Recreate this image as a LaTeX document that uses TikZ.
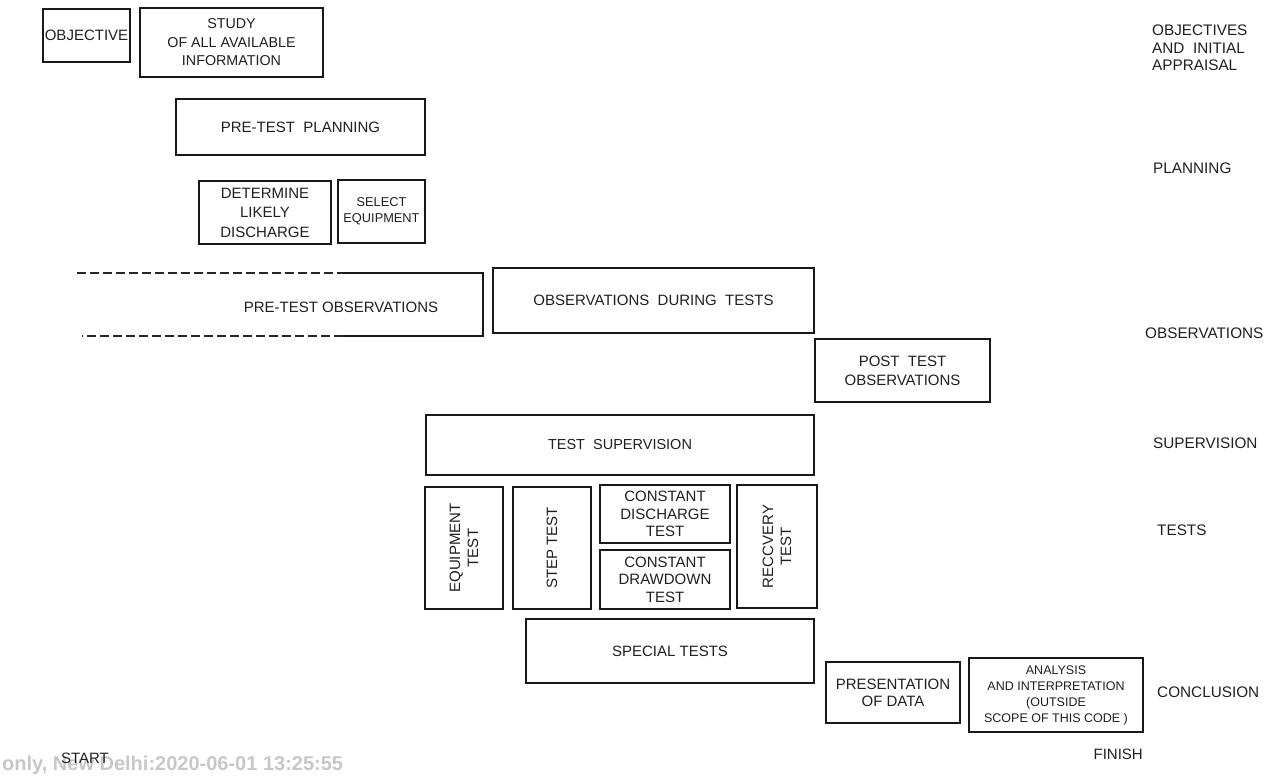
\documentclass[tikz,border=0pt]{standalone}
\usepackage{fontspec}
\setmainfont{Liberation Sans}
\newcommand{\myfs}[2]{\fontsize{#1}{#2}\selectfont}
\begin{document}
\begin{tikzpicture}[x=1pt,y=-1pt,
  box/.style={draw=black!90, line width=1.3pt, inner sep=0pt, align=center, text=black!88, font=\myfs{15}{18}},
  txt/.style={inner sep=0pt, align=center, text=black!88, font=\myfs{15}{18}},
  lab/.style={anchor=west, inner sep=0pt, align=left, text=black!88, font=\myfs{15.3}{17.5}},
  dashline/.style={draw=black!85, line width=1.3pt, dash pattern=on 9pt off 4pt},
  solidline/.style={draw=black!90, line width=1.3pt}]
\useasboundingbox (0,0) rectangle (1274,778);

% watermark
\node[anchor=base west, inner sep=0pt, font=\bfseries\myfs{20}{20}, text=black!22] (wm) at (2,770) {only, New Delhi:2020-06-01 13:25:55};

% objectives
\node[box, minimum width=87pt, minimum height=53pt] (obj) at (86.5,35.5) {OBJECTIVE};
\node[box, minimum width=183pt, minimum height=69pt, font=\myfs{14.3}{18.5}] (study) at (231.5,42.5) {STUDY\\OF ALL AVAILABLE\\INFORMATION};

% planning
\node[box, minimum width=249pt, minimum height=56pt] (ptp) at (300.5,127) {PRE-TEST\ \ PLANNING};
\node[box, minimum width=132pt, minimum height=63pt, font=\myfs{15}{19.5}] (det) at (265,212.5) {DETERMINE\\LIKELY\\DISCHARGE};
\node[box, minimum width=87pt, minimum height=63pt, font=\myfs{12.8}{16}] (sel) at (381.5,211.5) {SELECT\\EQUIPMENT};

% observations
\node[txt] (pto) at (341,307) {PRE-TEST OBSERVATIONS};
\coordinate (ptoTL) at (77,273);
\coordinate (ptoTM) at (343,273);
\coordinate (ptoTR) at (483,273);
\coordinate (ptoBR) at (483,336);
\coordinate (ptoBM) at (343,336);
\coordinate (ptoBL) at (82,336);
\draw[dashline] (ptoTL) -- (ptoTM);
\draw[solidline] (ptoTM) -- (ptoTR) -- (ptoBR) -- (ptoBM);
\draw[dashline] (ptoBM) -- (ptoBL);

\node[box, minimum width=321pt, minimum height=65pt] (odt) at (653.5,300.5) {OBSERVATIONS\ \ DURING\ \ TESTS};
\node[box, minimum width=175pt, minimum height=63pt, font=\myfs{15}{19}] (post) at (902.5,370.5) {POST\ \ TEST\\OBSERVATIONS};

% supervision
\node[box, minimum width=388pt, minimum height=60pt, font=\myfs{14.5}{18}] (sup) at (620,445) {TEST\ \ SUPERVISION};

% tests
\node[box, rotate=90, minimum width=122pt, minimum height=78pt] (eqt) at (464,548) {EQUIPMENT\\TEST};
\node[box, rotate=90, minimum width=122pt, minimum height=78pt] (stp) at (552,548) {STEP TEST};
\node[box, minimum width=130pt, minimum height=58pt, font=\myfs{15}{17.5}] (cdt) at (665,514) {CONSTANT\\DISCHARGE\\TEST};
\node[box, minimum width=130pt, minimum height=59pt, font=\myfs{15}{17.5}] (cdd) at (665,579.5) {CONSTANT\\DRAWDOWN\\TEST};
\node[box, rotate=90, minimum width=123pt, minimum height=80pt] (rec) at (777,546.5) {RECCVERY\\TEST};
\node[box, minimum width=288pt, minimum height=64pt] (spc) at (670,651) {SPECIAL TESTS};

% conclusion
\node[box, minimum width=134pt, minimum height=61pt, font=\myfs{15}{17}] (pres) at (893,692.5) {PRESENTATION\\OF DATA};
\node[box, minimum width=174pt, minimum height=74pt, font=\myfs{12.5}{16}] (ana) at (1056,695) {ANALYSIS\\AND INTERPRETATION\\(OUTSIDE\\SCOPE OF THIS CODE )};

% right-hand labels
\node[lab] (l1) at (1152,48) {OBJECTIVES\\AND\ \ INITIAL\\APPRAISAL};
\node[lab] (l2) at (1153,168) {PLANNING};
\node[lab] (l3) at (1145,333) {OBSERVATIONS};
\node[lab] (l4) at (1153,443) {SUPERVISION};
\node[lab] (l5) at (1157,530) {TESTS};
\node[lab] (l6) at (1157,692) {CONCLUSION};

% start / finish
\node[txt] (start) at (85,758) {START};
\node[txt, anchor=east] (finish) at (1143,754) {FINISH};
\end{tikzpicture}
\end{document}
